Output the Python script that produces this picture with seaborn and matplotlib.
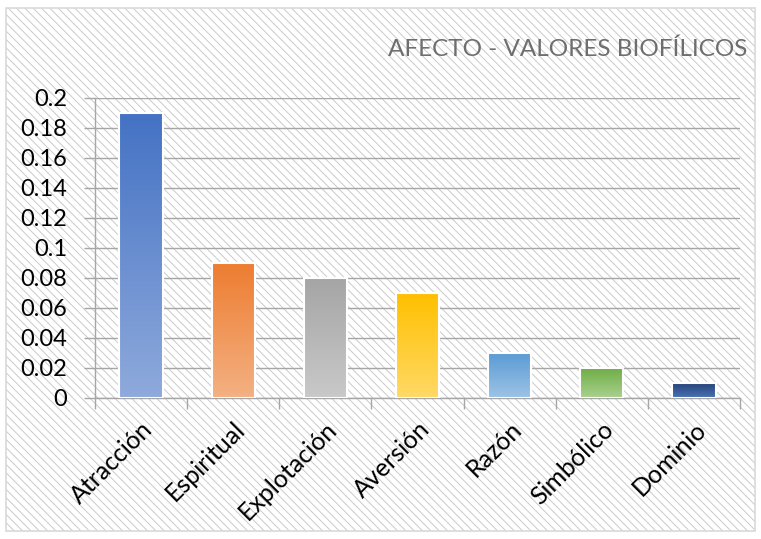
import numpy as np
import pandas as pd
import matplotlib
matplotlib.use("Agg")
import matplotlib.pyplot as plt
from matplotlib.patches import Rectangle
from matplotlib.colors import LinearSegmentedColormap
import seaborn as sns

# datos
categorias = ["Atracción", "Espiritual", "Explotación", "Aversión", "Razón", "Simbólico", "Dominio"]
valores = [0.19, 0.09, 0.08, 0.07, 0.03, 0.02, 0.01]
color_arriba = ["#4472C4", "#ED7D31", "#A5A5A5", "#FFC000", "#5B9BD5", "#70AD47", "#264478"]
color_abajo = ["#8FAADC", "#F4B183", "#C9C9C9", "#FFD966", "#9DC3E6", "#A9D18E", "#4A72B8"]
ticks_y = [0, 0.02, 0.04, 0.06, 0.08, 0.1, 0.12, 0.14, 0.16, 0.18, 0.2]
titulo = "AFECTO - VALORES BIOFÍLICOS"

sns.set_theme(style="white")
plt.rcParams["font.family"] = ["Lato", "DejaVu Sans"]
plt.rcParams["hatch.linewidth"] = 0.7
plt.rcParams["hatch.color"] = "#CACACA"

df = pd.DataFrame({"cat": categorias, "val": valores})

fig = plt.figure(figsize=(7.61, 5.39), dpi=100)
fig.patch.set_facecolor("white")

# fondo rayado + borde del área del gráfico
caja = (6 / 761, 1 - 531 / 539)
ancho, alto = 749 / 761, 523 / 539
fondo = Rectangle(caja, ancho, alto, transform=fig.transFigure,
                  facecolor="white", edgecolor="#CACACA", hatch="\\\\\\\\", lw=0, zorder=-10)
fig.patches.append(fondo)
borde = Rectangle(caja, ancho, alto, transform=fig.transFigure,
                  facecolor="none", edgecolor="#D9D9D9", lw=1.2, zorder=-9)
fig.patches.append(borde)

ax = fig.add_axes([95 / 761, 1 - 398 / 539, 645 / 761, 300 / 539])
ax.set_facecolor("none")
ax.set_zorder(5)

sns.barplot(data=df, x="cat", y="val", hue="cat", palette=color_arriba, legend=False,
            width=0.47, ax=ax, edgecolor="white", linewidth=1.5, zorder=3)

# degradado vertical en cada barra
for i, p in enumerate(list(ax.patches)):
    x0, w, h = p.get_x(), p.get_width(), p.get_height()
    cmap = LinearSegmentedColormap.from_list(f"g{i}", [color_abajo[i], color_arriba[i]])
    grad = np.linspace(0, 1, 256).reshape(-1, 1)
    ax.imshow(grad, extent=[x0, x0 + w, 0, h], origin="lower", aspect="auto",
              cmap=cmap, zorder=3.5, interpolation="bicubic")
    ax.add_patch(Rectangle((x0, 0), w, h, facecolor="none", edgecolor="white", lw=1.5, zorder=4))

ax.set_xlim(-0.5, len(categorias) - 0.5)
ax.set_ylim(0, 0.2)
ax.set_yticks(ticks_y)
ax.set_yticklabels([f"{t:g}" for t in ticks_y])
ax.yaxis.grid(True, color="#A6A6A6", lw=1.0, zorder=1)
ax.set_axisbelow(True)

for s in ["top", "right"]:
    ax.spines[s].set_visible(False)
for s in ["left", "bottom"]:
    ax.spines[s].set_color("#A6A6A6")
    ax.spines[s].set_linewidth(1.0)

ax.tick_params(axis="y", which="major", length=8, width=1.0, color="#A6A6A6",
               labelsize=17, labelcolor="black", pad=12, left=True)
ax.set_xticks(range(len(categorias)))
ax.set_xticklabels(categorias, rotation=45, ha="right", rotation_mode="anchor")
ax.set_xticks(np.arange(-0.5, len(categorias)), minor=True)
ax.tick_params(axis="x", which="major", length=0, labelsize=18, labelcolor="black", pad=14)
ax.tick_params(axis="x", which="minor", length=8, width=1.0, color="#A6A6A6", bottom=True)
ax.set_xlabel("")
ax.set_ylabel("")

fig.text(747 / 761, 1 - 49 / 539, titulo, ha="right", va="center", fontsize=17.5, color="#6E6E6E")

fig.savefig("out.png", dpi=100)
